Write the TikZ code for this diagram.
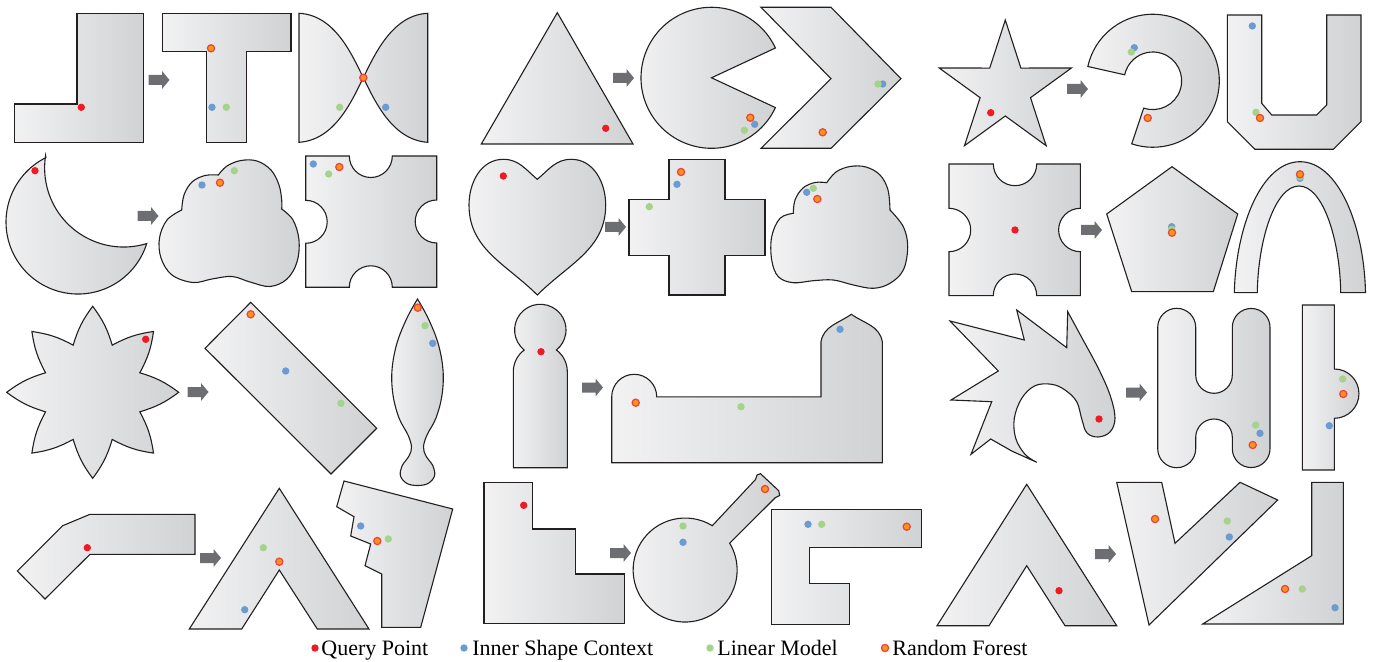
\documentclass[tikz,border=0pt]{standalone}
\usepackage{fontspec}
\setmainfont{Liberation Serif}
\definecolor{shL}{HTML}{F2F2F3}
\definecolor{shR}{HTML}{D0D2D4}
\definecolor{edgec}{HTML}{231F20}
\definecolor{agray}{HTML}{6D6E71}
\definecolor{qred}{HTML}{ED1C24}
\definecolor{iblue}{HTML}{6C9BD2}
\definecolor{lgreen}{HTML}{A5D38B}
\definecolor{rfor}{HTML}{F7941D}
\definecolor{rbord}{HTML}{EF4136}
\tikzset{
  shp/.style={draw=edgec, line width=0.55pt, left color=shL, right color=shR, line join=miter},
  qd/.style={fill=qred},
  bd/.style={fill=iblue},
  gd/.style={fill=lgreen},
  od/.style={fill=rfor, draw=rbord, line width=0.6pt},
  barrow/.pic={\fill[agray] (-10.5,-5)--(3,-5)--(3,-9)--(10.5,0)--(3,9)--(3,5)--(-10.5,5)--cycle;},
  legtext/.style={anchor=base west, inner sep=0pt, font=\fontsize{11}{13}\selectfont}
}
\newcommand\dotQ[1]{\fill[qd] #1 circle (3.7);}
\newcommand\dotB[1]{\fill[bd] #1 circle (3.7);}
\newcommand\dotG[1]{\fill[gd] #1 circle (3.7);}
\newcommand\dotO[1]{\filldraw[od] #1 circle (3.6);}
\begin{document}
\begin{tikzpicture}[x=0.5pt,y=0.5pt]
\useasboundingbox (0,0) rectangle (1374,-662);
% ===== Row 1, cell 1 =====
\path[shp] (77,-13.3) -- (143.3,-13.3) -- (143.3,-142.3) -- (14.3,-142.3) -- (14.3,-104) -- (77,-104) -- cycle;
\dotQ{(81.3,-107.3)}
\pic at (159,-80) {barrow};
\path[shp] (162.3,-13.3) -- (291,-13.3) -- (291,-51.7) -- (246.7,-51.7) -- (246.7,-142.3) -- (206.7,-142.3) -- (206.7,-51.7) -- (162.3,-51.7) -- cycle;
\dotB{(212,-107.3)} \dotG{(226.3,-107.3)} \dotO{(211,-48.3)}
\path[shp] (299,-13.3) .. controls (335,-15) and (352,-55) .. (363.3,-77.7) .. controls (374.6,-100.4) and (392,-140) .. (427.7,-142.3) -- (427.7,-13.3) .. controls (392,-15) and (374.6,-55) .. (363.3,-77.7) .. controls (352,-100.4) and (335,-140) .. (299,-142.3) -- cycle;
\dotG{(339.7,-107.3)} \dotB{(385.7,-107.3)} \dotO{(363.3,-77.7)}
% ===== Row 1, cell 2 =====
\path[shp] (481.3,-144) -- (557.3,-12.7) -- (633,-144) -- cycle;
\dotQ{(605.7,-128.3)}
\pic at (623.5,-78) {barrow};
\path[shp] (711.5,-77.8) -- (775.4,-48) arc(25:335:70.5) -- cycle;
\dotG{(744.3,-130.3)} \dotB{(754.7,-124.3)} \dotO{(750.3,-117.7)}
\path[shp] (761,-7.3) -- (831,-7.3) -- (901,-78.7) -- (831,-148.3) -- (761,-148.3) -- (831,-78.7) -- cycle;
\dotB{(882.7,-84)} \dotG{(878,-84)} \dotO{(822.7,-132.3)}
% ===== Row 1, cell 3 =====
\path[shp, shift={(1005.3,-89.5)}] (90:69.5) -- (126:26.5) -- (162:69.5) -- (198:26.5) -- (234:69.5) -- (270:26.5) -- (306:69.5) -- (342:26.5) -- (18:69.5) -- (54:26.5) -- cycle;
\dotQ{(990.7,-112.7)}
\pic at (1077.5,-89) {barrow};
\path[shp] (1087.85,-66.5) arc(167.6:-108.5:66.5) -- (1143.7,-108.1) arc(-108.5:168:28.8) -- cycle;
\dotB{(1134.3,-47.7)} \dotG{(1131.3,-52)} \dotO{(1147.7,-118)}
\path[shp] (1227.3,-15) -- (1261.7,-15) -- (1261.7,-103.3) -- (1271.7,-115) -- (1316.7,-115) -- (1326.7,-105) -- (1326.7,-15) -- (1361,-15) -- (1361,-121.7) -- (1333.3,-149.3) -- (1255,-149.3) -- (1227.3,-121.7) -- cycle;
\dotB{(1252.3,-26)} \dotG{(1256,-112.3)} \dotO{(1260,-118)}
% ===== Row 2, cell 1 =====
\path[shp] (45.9,-157.6) arc(116.5:342.6:72) arc(-73:-189:79) -- cycle;
\dotQ{(35,-170.7)}
\pic at (148,-216) {barrow};
\path[shp] plot[smooth, tension=0.6] coordinates {(181.7,-210) (184,-195) (192,-182) (205,-175.5) (218.3,-175)}
  -- plot[smooth, tension=0.6] coordinates {(218.3,-175) (227,-166) (241,-160.5) (257,-161) (271,-170) (279,-185) (281.7,-200) (281.7,-209)}
  -- plot[smooth, tension=0.6] coordinates {(281.7,-209) (293,-220) (299,-240) (297,-262) (287,-279) (270,-286.5) (250,-282) (232,-276.5) (212,-279) (193,-282.5) (172,-275) (161,-258) (159.5,-238) (167,-220) (181.7,-210)} -- cycle;
\dotB{(202,-185)} \dotO{(220,-182.7)} \dotG{(234.3,-170.7)}
\path[shp] (305.7,-156) -- (349.3,-156) arc(180:360:21.5) -- (436.7,-156) -- (436.7,-200) arc(90:270:21.5) -- (436.7,-287.3) -- (392.3,-287.3) arc(0:180:21.5) -- (305.7,-287.3) -- (305.7,-243.3) arc(-90:90:21.5) -- cycle;
\dotB{(313.3,-164)} \dotG{(328.7,-174)} \dotO{(339.3,-167)}
% ===== Row 2, cell 2 =====
\path[shp] (537.3,-179.3) to[out=140,in=0] (503.3,-159.3) to[out=180,in=90] (469,-205) to[out=-90,in=135] (537.3,-295) to[out=45,in=-90] (605.7,-205) to[out=90,in=0] (571.3,-159.3) to[out=180,in=40] (537.3,-179.3) -- cycle;
\dotQ{(503.3,-176)}
\pic at (615.5,-227) {barrow};
\path[shp] (669,-159.3) -- (725,-159.3) -- (725,-199.3) -- (765,-199.3) -- (765,-255.3) -- (725,-255.3) -- (725,-295) -- (669,-295) -- (669,-255.3) -- (629,-255.3) -- (629,-199.3) -- (669,-199.3) -- cycle;
\dotO{(681,-172)} \dotB{(677,-184.3)} \dotG{(649.3,-206.7)}
\path[shp] plot[smooth, tension=0.6] coordinates {(793.3,-213.3) (795,-200) (803,-188) (815,-182.5) (826.7,-182.7)}
  -- plot[smooth, tension=0.6] coordinates {(826.7,-182.7) (836,-172) (850,-166.5) (866,-167) (880,-175) (888,-190) (890,-210)}
  -- plot[smooth, tension=0.6] coordinates {(890,-210) (903.3,-226.7) (907.7,-246.7) (903.3,-270) (890,-283.3) (873.3,-288.3) (853.3,-285) (833.3,-280) (813.3,-280.7) (793.3,-282.7) (778.3,-276.7) (771.7,-260) (771.7,-236.7) (780,-218.3) (793.3,-213.3)} -- cycle;
\dotB{(806.7,-192.3)} \dotG{(813.3,-188.3)} \dotO{(817.3,-199)}
% ===== Row 2, cell 3 =====
\path[shp] (949,-164) -- (993.3,-164) arc(180:360:21.7) -- (1080.3,-164) -- (1080.3,-208.3) arc(90:270:21.7) -- (1080.3,-295.7) -- (1036.7,-295.7) arc(0:180:21.7) -- (949,-295.7) -- (949,-251.7) arc(-90:90:21.7) -- cycle;
\dotQ{(1015,-230)}
\pic at (1091.5,-230) {barrow};
\path[shp] (1172,-166.7) -- (1237.7,-214) -- (1213.3,-291.7) -- (1131.7,-291.7) -- (1106.7,-214) -- cycle;
\dotB{(1171.7,-226.7)} \dotG{(1171.7,-229.3)} \dotO{(1172,-232.7)}
\path[shp] (1234.3,-292.7) .. controls (1236,-225) and (1262,-161.7) .. (1300,-161.7) .. controls (1338,-161.7) and (1364,-225) .. (1365.5,-292.7) -- (1340.7,-292.7) .. controls (1340,-240) and (1323,-186) .. (1299,-186) .. controls (1275,-186) and (1258,-240) .. (1257.3,-292.7) -- cycle;
\dotB{(1300,-178.3)} \dotG{(1300,-176.7)} \dotO{(1300,-174.3)}
% ===== Row 3, cell 1 =====
\path[shp, shift={(92.7,-392.3)}] (0:86) to[bend right=10] (22.5:51) to[bend right=10] (45:86) to[bend right=10] (67.5:51) to[bend right=10] (90:86) to[bend right=10] (112.5:51) to[bend right=10] (135:86) to[bend right=10] (157.5:51) to[bend right=10] (180:86) to[bend right=10] (202.5:51) to[bend right=10] (225:86) to[bend right=10] (247.5:51) to[bend right=10] (270:86) to[bend right=10] (292.5:51) to[bend right=10] (315:86) to[bend right=10] (337.5:51) to[bend right=10] (360:86) -- cycle;
\dotQ{(145.7,-339.3)}
\pic at (198,-392) {barrow};
\path[shp] (250.7,-302.3) -- (376.7,-428.3) -- (331,-474) -- (205,-348.3) -- cycle;
\dotO{(250.7,-314.3)} \dotB{(285.7,-371)} \dotG{(341,-403.3)}
\path[shp] plot[smooth, tension=0.6] coordinates {(417.5,-299) (407,-318) (397,-343) (392,-370) (393,-395) (399,-418) (408,-435) (411.5,-447) (409,-456) (402,-466) (400.5,-476) (407,-483.5) (417.5,-485.5) (428,-483.5) (434.5,-476) (433,-466) (426,-456) (423.5,-447) (427,-435) (436,-418) (442,-395) (443,-370) (438,-343) (428,-318) (417.5,-299)} -- cycle;
\dotO{(417.7,-307.7)} \dotG{(425,-325.7)} \dotB{(432.7,-343.3)}
% ===== Row 3, cell 2 =====
\path[shp] (524.2,-350) arc(231.2:-51.2:25.7) arc(53.4:0:27) -- (567.3,-467.7) -- (513.3,-467.7) -- (513.3,-371.7) arc(180:126.6:27) -- cycle;
\dotQ{(541,-351.7)}
\pic at (592.5,-387.5) {barrow};
\path[shp] (611.7,-462.7) -- (611.7,-396.8) arc(180:0:22.5) -- (821,-396.8) -- (821,-341.7) to[out=80,in=-145] (851.3,-314.3) to[out=-35,in=100] (882.3,-341.7) -- (882.3,-462.7) -- cycle;
\dotO{(635.7,-402.7)} \dotG{(741,-406.7)} \dotB{(840,-329.3)}
% ===== Row 3, cell 3 =====
\path[shp] (950,-321) -- (1024.3,-340) -- (1016.7,-310) -- (1066.7,-347.7) -- (1067.7,-311.7)
  -- plot[smooth, tension=0.6] coordinates {(1067.7,-311.7) (1082,-338) (1098.3,-368.3) (1110,-395) (1115,-418) (1110,-432) (1098,-437) (1087,-433) (1082,-420) (1076.7,-401.7) (1065,-390) (1051.7,-384.3) (1035,-385.7) (1021.7,-398.3) (1014.3,-418.3) (1015.7,-438.3) (1025,-454.3) (1036.7,-462.3)}
  -- (1011.7,-451) -- (990.7,-439) -- (971,-454.3) -- (991.7,-401.7) -- (951,-400) -- (998.3,-371) -- cycle;
\dotQ{(1099,-419)}
\pic at (1136.5,-392.5) {barrow};
\path[shp] (1157.7,-327.3) arc(180:0:19) -- (1195.7,-375) arc(180:360:18.3) -- (1232.3,-327.3) arc(180:0:18.85) -- (1270,-448.7) arc(0:-180:18.85) -- (1232.3,-437.3) arc(0:180:18.3) -- (1195.7,-448.7) arc(0:-180:19) -- cycle;
\dotG{(1255.7,-425)} \dotB{(1260,-433.3)} \dotO{(1252.7,-445)}
\path[shp] (1302.3,-305) -- (1334.3,-305) -- (1334.3,-369) arc(90:-90:24.65) -- (1334.3,-470) -- (1302.3,-470) -- cycle;
\dotG{(1342.7,-379)} \dotO{(1343.3,-394)} \dotB{(1329.3,-425.7)}
% ===== Row 4, cell 1 =====
\path[shp] (17.3,-571) -- (62.7,-525.7) -- (90,-514.3) -- (195,-514.3) -- (195,-554.3) -- (90,-554.3) -- (45,-599) -- cycle;
\dotQ{(87.3,-547.7)}
\pic at (210.5,-558) {barrow};
\path[shp] (279.3,-488.3) -- (369,-629) -- (317.3,-629) -- (279.3,-570) -- (241.7,-629) -- (189.3,-629) -- cycle;
\dotG{(263.3,-547.7)} \dotO{(279.3,-561.7)} \dotB{(244.7,-609.7)}
\path[shp] (344,-481) -- (452.7,-509) -- (420.7,-627.3) -- (381.7,-627.3) -- (381.7,-574) -- (365,-565.7) -- (370.7,-544) -- (350.7,-536) -- (354,-516.7) -- (336.7,-506.7) -- cycle;
\dotB{(360.7,-526)} \dotO{(377.3,-541)} \dotG{(388.3,-539)}
% ===== Row 4, cell 2 =====
\path[shp] (484,-482.7) -- (532.7,-482.7) -- (532.7,-529) -- (575.7,-529) -- (575.7,-574) -- (624.7,-574) -- (624.7,-623.3) -- (484,-623.3) -- cycle;
\dotQ{(523.7,-505.3)}
\pic at (620.5,-553) {barrow};
\path[shp] (712.3,-525.7) arc(58.5:391.1:52) -- (775.5,-497.5) -- (779.7,-495.5) -- (778.7,-490.7) -- (760.5,-473.7) -- (757,-475) -- (755.5,-479.5) -- cycle;
\dotO{(765,-489)} \dotG{(683,-526)} \dotB{(683,-542.3)}
\path[shp] (771.7,-509.3) -- (921.7,-509.3) -- (921.7,-547.7) -- (809.3,-547.7) -- (809.3,-583.3) -- (849.3,-583.3) -- (849.3,-624.3) -- (771.7,-624.3) -- cycle;
\dotB{(808,-524.3)} \dotG{(821.7,-524.3)} \dotO{(906.7,-526.7)}
% ===== Row 4, cell 3 =====
\path[shp] (1026.7,-484.3) -- (1116.7,-625.7) -- (1065,-625.7) -- (1026.7,-565.7) -- (989,-625.7) -- (937,-625.7) -- cycle;
\dotQ{(1059,-590.7)}
\pic at (1105.5,-554) {barrow};
\path[shp] (1116.7,-482.3) -- (1161.7,-482.3) -- (1175,-543.3) -- (1240,-482.3) -- (1277.7,-500) -- (1149,-625) -- cycle;
\dotO{(1155,-519)} \dotG{(1227.3,-521)} \dotB{(1229.3,-537)}
\path[shp] (1311.7,-482.3) -- (1343.3,-482.3) -- (1343.3,-624) -- (1202.7,-624) -- (1311.7,-555.7) -- cycle;
\dotO{(1285,-589)} \dotG{(1302.3,-589)} \dotB{(1335,-607.7)}
% ===== Legend =====
\dotQ{(315,-648)}
\node[legtext] (lq) at (321,-655) {Query Point};
\dotB{(464,-648)}
\node[legtext] (lb) at (472,-655) {Inner Shape Context};
\dotG{(710,-648)}
\node[legtext] (lg) at (717,-655) {Linear Model};
\dotO{(885,-648)}
\node[legtext] (lo) at (892,-655) {Random Forest};
\end{tikzpicture}
\end{document}
